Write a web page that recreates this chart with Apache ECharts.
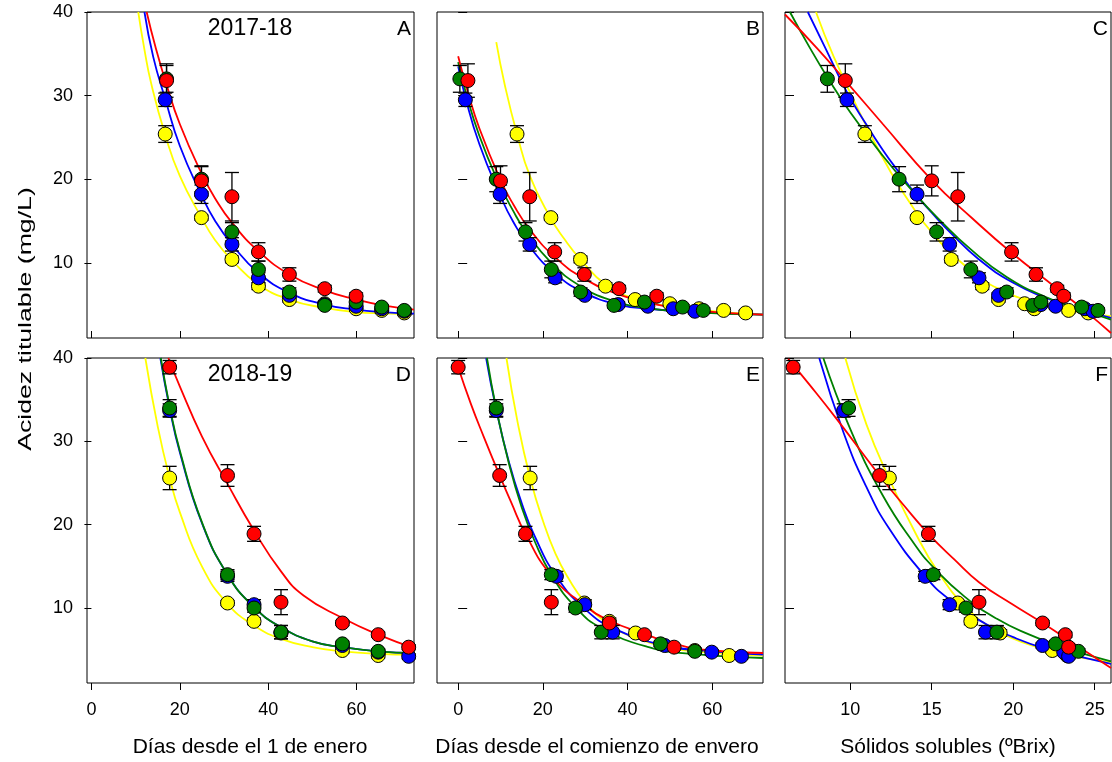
<!DOCTYPE html>
<html><head><meta charset="utf-8">
<script src="https://cdn.jsdelivr.net/npm/echarts@6/dist/echarts.min.js"></script>
<style>html,body{margin:0;padding:0;background:#fff}#chart{width:1112px;height:762px}</style>
</head><body><div id="chart"></div>
<script>
// ---------- tick labels ----------
const yTicks = [10, 20, 30, 40];
const xTicksDays = [0, 20, 40, 60];
const xTicksBrix = [10, 15, 20, 25];

// ---------- 2017-18 measured points ----------
const red17Y    = [31.8, 19.8, 17.9, 11.3, 8.6, 6.9, 6.0];
const red17Err  = [2.0, 1.8, 2.9, 1.1, 0.8, 0.4, 0.4];
const red17Days = [17.0, 24.9, 31.8, 37.8, 44.8, 52.8, 59.9];
const red17Env  = [2.3, 10.0, 16.9, 22.8, 29.8, 38.0, 46.9];
const red17Brix = [9.7, 15.0, 16.6, 19.9, 21.4, 22.7, 23.1];

const green17Y    = [32.0, 20.0, 13.7, 9.2, 6.5, 4.9, 5.3, 4.7, 4.3];
const green17Err  = [1.6, 1.5, 1.1, 1.0, 0.5, 0.3, 0.4, 0.3, 0.3];
const green17Days = [17.0, 24.9, 31.8, 37.8, 44.8, 52.8, 59.9, 65.7, 70.8];
const green17Env  = [0.4, 9.0, 15.9, 22.0, 28.9, 36.8, 44.0, 53.0, 57.9];
const green17Brix = [8.6, 13.0, 15.3, 17.4, 19.6, 21.2, 21.7, 24.2, 25.2];

const blue17Y    = [29.5, 18.2, 12.2, 8.2, 6.1, 5.0, 4.8, 4.5, 4.2];
const blue17Err  = [0.8, 1.1, 0.8, 0.6, 0.3, 0.3, 0.3, 0.3, 0.3];
const blue17Days = [16.7, 24.9, 31.8, 37.8, 44.8, 52.8, 59.9, 65.7, 70.8];
const blue17Env  = [1.7, 9.9, 16.9, 22.9, 29.9, 37.8, 44.8, 50.8, 55.9];
const blue17Brix = [9.8, 14.1, 16.1, 17.9, 19.1, 21.7, 22.6, 24.4, 24.9];

const yellow17Y    = [25.4, 15.4, 10.4, 7.2, 5.6, 5.1, 4.5, 4.3, 4.0];
const yellow17Err  = [1.0, 0.3, 0.4, 0.4, 0.3, 0.3, 0.3, 0.3, 0.3];
const yellow17Days = [16.7, 24.9, 31.8, 37.8, 44.8, 52.8, 59.9, 65.7, 70.8];
const yellow17Env  = [13.9, 21.9, 28.9, 34.8, 41.8, 50.0, 56.9, 62.7, 67.9];
const yellow17Brix = [10.9, 14.1, 16.2, 18.1, 19.1, 20.7, 21.3, 23.4, 24.6];

// ---------- 2018-19 measured points ----------
const red18Y    = [38.9, 25.9, 18.9, 10.7, 8.2, 6.8, 5.3];
const red18Err  = [0.8, 1.3, 0.9, 1.5, 0.3, 0.3, 0.3];
const red18Days = [17.7, 30.8, 36.8, 42.9, 56.8, 64.9, 71.8];
const red18Env  = [0.0, 9.8, 15.9, 22.0, 35.7, 44.0, 51.0];
const red18Brix = [6.5, 11.8, 14.8, 17.9, 21.8, 23.2, 23.4];

const green18Y    = [34.0, 14.0, 10.0, 7.1, 5.7, 4.8];
const green18Err  = [1.0, 0.6, 0.5, 0.8, 0.3, 0.3];
const green18Days = [17.7, 30.8, 36.8, 42.9, 56.8, 64.9];
const green18Env  = [9.0, 22.0, 27.7, 33.8, 47.8, 55.9];
const green18Brix = [9.9, 15.1, 17.1, 19.0, 22.6, 24.0];

const blue18Y    = [33.7, 13.8, 10.4, 7.1, 5.5, 4.7, 4.2];
const blue18Err  = [0.8, 0.6, 0.6, 0.8, 0.3, 0.3, 0.3];
const blue18Days = [17.7, 30.8, 36.8, 42.9, 56.8, 64.9, 71.8];
const blue18Env  = [9.0, 23.2, 29.9, 36.5, 48.8, 59.9, 66.9];
const blue18Brix = [9.6, 14.6, 16.1, 18.3, 21.8, 23.1, 23.4];

const yellow18Y    = [25.6, 10.6, 8.4, 7.0, 4.9, 4.3];
const yellow18Err  = [1.4, 0.3, 0.4, 0.4, 0.3, 0.3];
const yellow18Days = [17.7, 30.8, 36.8, 42.9, 56.8, 64.9];
const yellow18Env  = [17.0, 29.8, 35.7, 41.9, 55.9, 64.0];
const yellow18Brix = [12.4, 16.6, 17.4, 19.2, 22.4, 23.3];

// ---------- fitted curves ----------
const fitRedA    = [[12.5,40],[14.5,35.8],[17,31.3],[20,26.6],[24.9,20.7],[28,17.7],[31.8,14.8],[37.8,11.4],[44.8,8.6],[52.8,6.7],[59.9,5.6],[66,4.9],[73,4.4]];
const fitBlueA   = [[12.0,40],[14,34.6],[16.7,29.6],[20,24.0],[24.9,18.1],[28,15.0],[31.8,12.2],[37.8,8.8],[44.8,6.4],[52.8,5.0],[59.9,4.4],[66,4.1],[73,3.9]];
const fitYellowA = [[10.6,40],[12,35.5],[13.5,31.5],[16.7,25.3],[20,20.4],[24.9,15.4],[28,12.7],[31.8,10.3],[37.8,7.4],[44.8,5.6],[52.8,4.6],[59.9,4.1],[66,3.95],[73,3.85]];

const fitRedB    = [[0,34.7],[2.3,30.4],[5,26.1],[10,19.9],[13,17.0],[16.9,14.0],[22.8,10.7],[29.8,8.1],[38,6.2],[46.9,5.0],[55,4.4],[63,4.0],[72,3.8]];
const fitBlueB   = [[0,33.5],[1.7,29.8],[5,24.2],[9.9,18.1],[13,14.9],[16.9,11.9],[22.9,8.7],[29.9,6.4],[37.8,5.0],[44.8,4.5],[55.9,4.1],[72,3.8]];
const fitGreenB  = [[0,34.0],[2,30.0],[5,25.2],[9,20.2],[13,16.2],[15.9,13.8],[22,10.0],[28.9,7.2],[36.8,5.4],[44,4.6],[55,4.1],[72,3.8]];
const fitYellowB = [[9.0,36.4],[11,31.3],[13.9,25.4],[17,20.3],[21.9,15.3],[25,12.9],[28.9,10.4],[34.8,7.4],[41.8,5.7],[50,4.8],[56.9,4.4],[62.7,4.1],[72,3.8]];

const fitRedC    = [[6,39.7],[8,35.6],[9.7,31.8],[12,26.6],[15,19.9],[17.5,15.3],[19.9,11.2],[22.7,6.9],[24.5,4.1],[26,1.6]];
const fitBlueC   = [[7.4,40],[8.5,35.6],[9.8,30.4],[11,26.5],[12,23.5],[13,20.8],[14.1,18.0],[15,16.0],[16.1,13.7],[17.9,10.4],[20,7.6],[22,5.8],[24,4.5],[26,3.4]];
const fitGreenC  = [[6.3,40],[7.5,35.8],[8.6,32.2],[10,28.0],[12,22.8],[14,18.2],[15.3,15.5],[17.4,11.6],[19.6,8.3],[22,5.9],[24,4.5],[26,3.2]];
const fitYellowC = [[7.9,40],[9,34.6],[10.9,26.7],[12.5,20.8],[14.1,15.9],[15.2,13.2],[16.2,11.1],[18.1,8.0],[19.1,6.9],[20.7,5.6],[23.4,4.3],[26,3.6]];

const fitRedD    = [[17.4,40],[20,36.6],[25,30.6],[30.8,24.9],[36.8,19.3],[42.9,14.4],[48,11.5],[56.8,8.8],[64.9,6.8],[73,5.2]];
const fitBlueD   = [[15.6,40],[17.7,34.0],[20,28.7],[25,20.2],[30.8,14.0],[36.8,10.1],[42.9,7.7],[50,6.0],[56.8,5.3],[64.9,4.8],[73,4.6]];
const fitGreenD  = [[15.7,40],[17.7,34.2],[20,28.9],[25,20.3],[30.8,14.0],[36.8,10.1],[42.9,7.7],[50,6.0],[56.8,5.3],[64.9,4.8],[73,4.6]];
const fitYellowD = [[12.2,40],[15,31.8],[17.7,25.6],[20,21.5],[25,15.0],[30.8,10.5],[36.8,7.9],[42.9,6.3],[50,5.3],[56.8,4.8],[64.9,4.5],[73,4.4]];

const fitRedE    = [[0,38.9],[3,34.5],[6,30.6],[9.8,25.9],[12.5,22.7],[15.9,18.9],[22,13.9],[29.9,10.3],[35.7,8.5],[44,6.9],[51,5.7],[59.9,4.9],[72,4.6]];
const fitBlueE   = [[6.6,40],[9,33.8],[12,27.5],[15,22.6],[18,18.7],[23.2,13.8],[29.9,9.9],[37,7.5],[48.8,5.5],[60,4.8],[72,4.4]];
const fitGreenE  = [[6.8,40],[9,33.9],[12,27.3],[15,22.1],[18,18.1],[22,14.0],[27.7,10.1],[33.8,7.6],[45,5.3],[55,4.5],[72,4.0]];
const fitYellowE = [[11.4,40],[14,32.4],[17,25.6],[20,20.5],[23,16.5],[26,13.6],[29.8,10.8],[35.7,8.0],[41.9,6.4],[50,5.2],[55.9,4.8],[64,4.5],[72,4.3]];

const fitRedF    = [[6.2,39.9],[7.5,36.8],[9.2,32.6],[11.8,25.9],[13.3,22.3],[14.8,18.9],[16.4,15.8],[17.9,13.1],[19.9,10.5],[21.8,8.2],[23.9,5.5],[26,2.8]];
const fitBlueF   = [[8.1,40],[9.6,31.0],[11,24.5],[12.4,19.5],[14.6,13.8],[16.1,11.0],[18.3,8.1],[20,6.5],[22,5.1],[24,4.2],[26,3.3]];
const fitGreenF  = [[8.35,40],[10,31.5],[12,23.5],[14,17.5],[15.1,14.9],[17,11.4],[19,8.7],[21,6.8],[23,5.3],[24.5,4.4],[26,3.6]];
const fitYellowF = [[9.7,40],[11,32.0],[12.4,25.5],[14,19.0],[15.4,14.3],[17.2,9.9],[19,7.3],[21,5.6],[23,4.5],[26,3.5]];

// ---------- styling / layout ----------
const COL = { red: '#ff0000', blue: '#0000ff', green: '#008000', yellow: '#ffff00' };
const FONT = '"Liberation Sans", Arial, sans-serif';

function pts(xs, ys, es) { return xs.map((x, i) => [x, ys[i], es[i]]); }

const panels = [
  { left: 87,  top: 12,  width: 327, height: 326, xMin: -1, xMax: 73, xTicks: xTicksDays, bottom: false, first: true,
    curves: [['yellow', fitYellowA], ['blue', fitBlueA], ['red', fitRedA]],
    points: [['yellow', pts(yellow17Days, yellow17Y, yellow17Err)], ['blue', pts(blue17Days, blue17Y, blue17Err)],
             ['green', pts(green17Days, green17Y, green17Err)], ['red', pts(red17Days, red17Y, red17Err)]] },
  { left: 437, top: 12,  width: 326, height: 326, xMin: -5, xMax: 72, xTicks: xTicksDays, bottom: false, first: false,
    curves: [['yellow', fitYellowB], ['blue', fitBlueB], ['green', fitGreenB], ['red', fitRedB]],
    points: [['yellow', pts(yellow17Env, yellow17Y, yellow17Err)], ['blue', pts(blue17Env, blue17Y, blue17Err)],
             ['green', pts(green17Env, green17Y, green17Err)], ['red', pts(red17Env, red17Y, red17Err)]] },
  { left: 785, top: 12,  width: 326, height: 326, xMin: 6, xMax: 26, xTicks: xTicksBrix, bottom: false, first: false,
    curves: [['yellow', fitYellowC], ['blue', fitBlueC], ['green', fitGreenC], ['red', fitRedC]],
    points: [['yellow', pts(yellow17Brix, yellow17Y, yellow17Err)], ['blue', pts(blue17Brix, blue17Y, blue17Err)],
             ['green', pts(green17Brix, green17Y, green17Err)], ['red', pts(red17Brix, red17Y, red17Err)]] },
  { left: 87,  top: 358, width: 327, height: 325, xMin: -1, xMax: 73, xTicks: xTicksDays, bottom: true, first: true,
    curves: [['yellow', fitYellowD], ['blue', fitBlueD], ['green', fitGreenD], ['red', fitRedD]],
    points: [['yellow', pts(yellow18Days, yellow18Y, yellow18Err)], ['blue', pts(blue18Days, blue18Y, blue18Err)],
             ['green', pts(green18Days, green18Y, green18Err)], ['red', pts(red18Days, red18Y, red18Err)]] },
  { left: 437, top: 358, width: 326, height: 325, xMin: -5, xMax: 72, xTicks: xTicksDays, bottom: true, first: false,
    curves: [['yellow', fitYellowE], ['blue', fitBlueE], ['green', fitGreenE], ['red', fitRedE]],
    points: [['yellow', pts(yellow18Env, yellow18Y, yellow18Err)], ['blue', pts(blue18Env, blue18Y, blue18Err)],
             ['green', pts(green18Env, green18Y, green18Err)], ['red', pts(red18Env, red18Y, red18Err)]] },
  { left: 785, top: 358, width: 326, height: 325, xMin: 6, xMax: 26, xTicks: xTicksBrix, bottom: true, first: false,
    curves: [['yellow', fitYellowF], ['blue', fitBlueF], ['green', fitGreenF], ['red', fitRedF]],
    points: [['yellow', pts(yellow18Brix, yellow18Y, yellow18Err)], ['blue', pts(blue18Brix, blue18Y, blue18Err)],
             ['green', pts(green18Brix, green18Y, green18Err)], ['red', pts(red18Brix, red18Y, red18Err)]] }
];

const grid = [], xAxis = [], yAxis = [], series = [];
panels.forEach((p, i) => {
  grid.push({ left: p.left, top: p.top, width: p.width, height: p.height, show: true,
              borderColor: '#000', borderWidth: 1, backgroundColor: 'transparent' });
  xAxis.push({ gridIndex: i, type: 'value', min: p.xMin, max: p.xMax,
    splitLine: { show: false }, axisLine: { show: false },
    axisTick: { show: true, inside: !p.bottom, length: 7, customValues: p.xTicks, lineStyle: { color: '#000', width: 1 } },
    axisLabel: { show: p.bottom, customValues: p.xTicks, fontSize: 18, color: '#000', fontFamily: FONT, margin: 18 } });
  yAxis.push({ gridIndex: i, type: 'value', min: 1, max: 40,
    splitLine: { show: false }, axisLine: { show: false },
    axisTick: { show: true, inside: !p.first, length: p.first ? 7 : 9, customValues: yTicks, lineStyle: { color: '#000', width: 1 } },
    axisLabel: { show: p.first, customValues: yTicks, fontSize: 18, color: '#000', fontFamily: FONT, margin: 14 } });
  p.curves.forEach(([c, d]) => series.push({
    type: 'line', xAxisIndex: i, yAxisIndex: i, data: d, smooth: 0.5,
    symbol: 'none', showSymbol: false, silent: true, z: 2,
    lineStyle: { color: COL[c], width: 1.8 } }));
  p.points.forEach(([c, d]) => series.push({
    type: 'custom', xAxisIndex: i, yAxisIndex: i, data: d, encode: { x: 0, y: 1 }, z: 3, silent: true,
    renderItem: (params, api) => {
      const x = api.value(0), y = api.value(1), e = api.value(2);
      const a = api.coord([x, y + e]), b = api.coord([x, y - e]);
      const hw = 7, st = { stroke: '#000', lineWidth: 1.3 };
      return { type: 'group', children: [
        { type: 'line', shape: { x1: a[0], y1: a[1], x2: b[0], y2: b[1] }, style: st },
        { type: 'line', shape: { x1: a[0] - hw, y1: a[1], x2: a[0] + hw, y2: a[1] }, style: st },
        { type: 'line', shape: { x1: b[0] - hw, y1: b[1], x2: b[0] + hw, y2: b[1] }, style: st } ] };
    } }));
  p.points.forEach(([c, d]) => series.push({
    type: 'scatter', xAxisIndex: i, yAxisIndex: i, data: d.map(v => [v[0], v[1]]), z: 4, silent: true,
    symbol: 'circle', symbolSize: 14,
    itemStyle: { color: COL[c], borderColor: '#000', borderWidth: 1, opacity: 1 } }));
});

function txt(text, x, y, size, align, extra) {
  return Object.assign({ type: 'text', x: x, y: y, z: 10, silent: true,
    style: { text: text, font: size + 'px ' + FONT, fill: '#000',
             textAlign: align, align: align, textVerticalAlign: 'middle', verticalAlign: 'middle' } }, extra || {});
}

const graphic = [
  txt('2017-18', 250, 29, 23, 'center'),
  txt('2018-19', 250, 375, 23, 'center'),
  txt('A', 411, 29, 21, 'right'), txt('B', 760, 29, 21, 'right'), txt('C', 1108, 29, 21, 'right'),
  txt('D', 411, 375, 21, 'right'), txt('E', 760, 375, 21, 'right'), txt('F', 1108, 375, 21, 'right'),
  txt('Días desde el 1 de enero', 250, 747, 21, 'center'),
  txt('Días desde el comienzo de envero', 597, 747, 21, 'center'),
  txt('Sólidos solubles (ºBrix)', 948, 747, 21, 'center'),
  txt('Acidez titulable (mg/L)', 26, 319, 18, 'center', { rotation: Math.PI / 2, scaleX: 1.48 })
];

const chart = echarts.init(document.getElementById('chart'), null, { renderer: 'canvas' });
chart.setOption({ animation: false, backgroundColor: '#fff', grid, xAxis, yAxis, series, graphic });
</script></body></html>
